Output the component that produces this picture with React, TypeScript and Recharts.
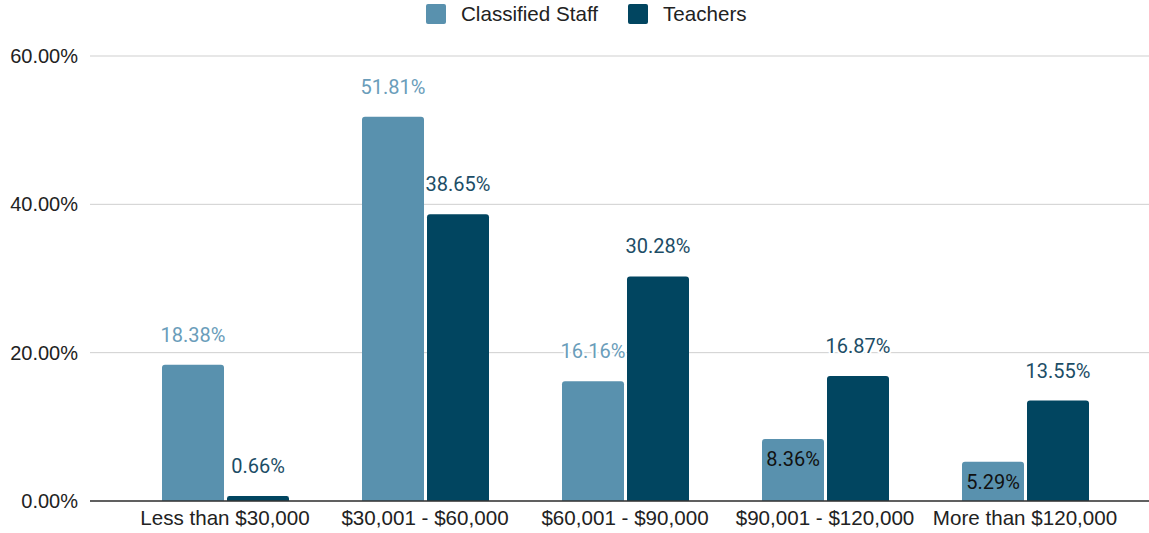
import { BarChart, Bar, XAxis, YAxis, CartesianGrid, LabelList } from 'recharts';

const categories = ['Less than $30,000', '$30,001 - $60,000', '$60,001 - $90,000', '$90,001 - $120,000', 'More than $120,000'];
const classifiedStaff = [18.38, 51.81, 16.16, 8.36, 5.29];
const teachers = [0.66, 38.65, 30.28, 16.87, 13.55];
const yTicks = [0, 20, 40, 60];

const STAFF_COLOR = '#5991ae';
const TEACHER_COLOR = '#014560';
const LABEL_FONT = 'Roboto, sans-serif';
const AXIS_FONT = '"Liberation Sans", Arial, sans-serif';

const data = categories.map((name, i) => ({
  name,
  staff: classifiedStaff[i],
  teachers: teachers[i],
}));

// values under the threshold are drawn inside the bar, like the original sheet chart
const makeLabel = (color: string, insideBelow: number) => (props: any) => {
  const { x, y, width, value } = props;
  const inside = value < insideBelow;
  return (
    <text
      x={x + width / 2}
      y={inside ? y + 20 : y - 30}
      textAnchor="middle"
      dominantBaseline="central"
      fontSize={20}
      fontFamily={LABEL_FONT}
      fill={inside ? '#111' : color}
      stroke={inside ? 'none' : '#fff'}
      strokeWidth={4}
      paintOrder="stroke"
    >
      {value.toFixed(2)}%
    </text>
  );
};

const legendItems = [
  { label: 'Classified Staff', color: STAFF_COLOR },
  { label: 'Teachers', color: TEACHER_COLOR },
];

export default function App() {
  return (
    <div style={{ position: 'absolute', left: 0, top: 0, width: 1149, height: 533, background: '#fff' }}>
      <div
        style={{
          position: 'absolute',
          left: 426,
          top: 3,
          height: 22,
          display: 'flex',
          alignItems: 'center',
          gap: 30,
          fontFamily: AXIS_FONT,
          fontSize: 20.6,
          color: '#222',
          zIndex: 1,
        }}
      >
        {legendItems.map((item) => (
          <div key={item.label} style={{ display: 'flex', alignItems: 'center' }}>
            <span style={{ width: 20, height: 20, background: item.color, borderRadius: 2, marginRight: 15, display: 'inline-block' }} />
            {item.label}
          </div>
        ))}
      </div>
      <BarChart
        width={1149}
        height={533}
        data={data}
        margin={{ top: 56, right: 0, bottom: 0, left: 0 }}
        barSize={62}
        barGap={3}
      >
        <CartesianGrid vertical={false} stroke="#cfcfcf" />
        <XAxis
          dataKey="name"
          height={32}
          padding={{ left: 35, right: 24 }}
          tickLine={false}
          tickSize={0}
          tickMargin={9}
          axisLine={{ stroke: '#333', strokeWidth: 1.5 }}
          tick={{ fontSize: 20.6, fill: '#222', fontFamily: AXIS_FONT }}
          interval={0}
        />
        <YAxis
          width={90}
          domain={[0, 60]}
          ticks={yTicks}
          tickFormatter={(v: number) => `${v.toFixed(2)}%`}
          axisLine={false}
          tickLine={false}
          tickSize={0}
          tickMargin={12}
          tick={{ fontSize: 20, fill: '#222', fontFamily: AXIS_FONT }}
        />
        <Bar dataKey="staff" name="Classified Staff" fill={STAFF_COLOR} radius={[3, 3, 0, 0]} isAnimationActive={false}>
          <LabelList dataKey="staff" content={makeLabel('#6a9dba', 10)} />
        </Bar>
        <Bar dataKey="teachers" name="Teachers" fill={TEACHER_COLOR} radius={[3, 3, 0, 0]} isAnimationActive={false}>
          <LabelList dataKey="teachers" content={makeLabel('#1c4d66', -1)} />
        </Bar>
      </BarChart>
    </div>
  );
}
